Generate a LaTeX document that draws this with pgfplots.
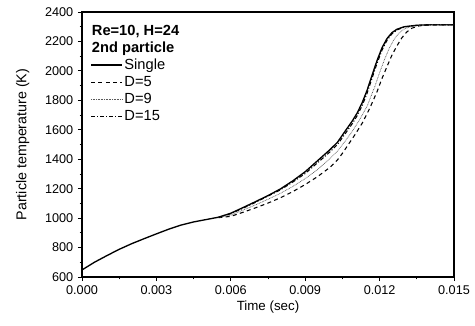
\documentclass[border=0pt]{standalone}
\usepackage{fontspec}
\setmainfont{Liberation Sans}
\usepackage{pgfplots}
\pgfplotsset{compat=1.18}

\pgfplotstableread{
t T
0 648
0.0005 700
0.001 745
0.0015 788
0.002 826
0.0025 860
0.003 893
0.0035 925
0.004 953
0.0045 974
0.005 990
0.0055 1006
0.006 1033
0.0065 1072
0.007 1112
0.0075 1153
0.008 1198
0.0085 1253
0.009 1315
0.0095 1390
0.0100 1465
0.0103 1515
0.0106 1588
0.0109 1660
0.0111 1715
0.0113 1785
0.0115 1870
0.0117 1972
0.0119 2072
0.0121 2158
0.0123 2220
0.0125 2260
0.0127 2283
0.0130 2300
0.0135 2310
0.0140 2313
0.0150 2313
}\single

\pgfplotstableread{
t T
0.0055 1003
0.006 1012
0.0065 1040
0.007 1070
0.0075 1102
0.008 1138
0.0085 1180
0.009 1228
0.0095 1282
0.0100 1345
0.0103 1395
0.0105 1440
0.0107 1490
0.0110 1565
0.0113 1645
0.0116 1745
0.0119 1860
0.0121 1950
0.0123 2030
0.0125 2108
0.0127 2170
0.0129 2225
0.0131 2265
0.0133 2290
0.0136 2306
0.0140 2312
0.0150 2313
}\dfive

\pgfplotstableread{
t T
0.0055 1004
0.006 1020
0.0065 1055
0.007 1090
0.0075 1128
0.008 1168
0.0085 1215
0.009 1268
0.0095 1330
0.0100 1405
0.0103 1455
0.0106 1520
0.0109 1590
0.0112 1670
0.0115 1762
0.0118 1890
0.0120 1988
0.0122 2078
0.0124 2158
0.0126 2218
0.0128 2260
0.0130 2285
0.0133 2302
0.0137 2310
0.0140 2313
0.0150 2313
}\dnine

\pgfplotstableread{
t T
0.0055 1005
0.006 1030
0.0065 1068
0.007 1107
0.0075 1150
0.008 1192
0.0085 1245
0.009 1303
0.0095 1376
0.0100 1450
0.0103 1500
0.0106 1570
0.0109 1642
0.0111 1697
0.0113 1765
0.0115 1850
0.0117 1952
0.0119 2052
0.0121 2142
0.0123 2208
0.0125 2252
0.0127 2278
0.0130 2298
0.0135 2309
0.0140 2313
0.0150 2313
}\dfifteen

\begin{document}
\begin{tikzpicture}
\begin{axis}[
  scale only axis,
  width=279pt, height=198.75pt,
  xmin=0, xmax=0.015, ymin=600, ymax=2400,
  xtick={0,0.003,0.006,0.009,0.012,0.015},
  ytick={600,800,...,2400},
  minor x tick num=1, minor y tick num=1,
  scaled x ticks=false,
  xticklabel style={/pgf/number format/.cd, fixed, fixed zerofill, precision=3},
  yticklabel style={/pgf/number format/.cd, 1000 sep={}},
  /pgf/number format/assume math mode=true,
  tick pos=left, tick align=outside,
  major tick length=3pt, minor tick length=1.8pt,
  tick style={black, line width=0.6pt},
  axis line style={line width=0.9pt},
  ticklabel style={font=\fontsize{9.5}{11}\selectfont},
  xlabel={Time (sec)},
  ylabel={Particle temperature (K)},
  xlabel style={font=\fontsize{10}{12}\selectfont, yshift=2pt},
  ylabel style={font=\fontsize{10.7}{12}\selectfont, yshift=5pt},
  legend style={at={(rel axis cs:0.022,0.832)}, anchor=north west, draw=none, fill=none,
    font=\fontsize{11}{13}\selectfont, row sep=0.6pt, inner sep=0pt,
    nodes={inner sep=1.5pt}},
  legend cell align=left,
  legend image code/.code={\draw[#1] (0pt,0pt) -- (23pt,0pt);},
]
\addplot[black, line width=1pt] table[x=t,y=T] {\single};
\addlegendentry{Single}
\addplot[black, line width=0.8pt, dash pattern=on 3pt off 2.5pt] table[x=t,y=T] {\dfive};
\addlegendentry{D=5}
\addplot[black!65, line width=0.5pt, dash pattern=on 0.6pt off 0.6pt] table[x=t,y=T] {\dnine};
\addlegendentry{D=9}
\addplot[black, line width=0.8pt, dash pattern=on 3pt off 1.5pt on 0.8pt off 1.5pt] table[x=t,y=T] {\dfifteen};
\addlegendentry{D=15}
\node[anchor=base west, font=\bfseries\fontsize{11}{13}\selectfont, inner sep=0pt] at (rel axis cs:0.026,0.912) {Re=10, H=24};
\node[anchor=base west, font=\bfseries\fontsize{11}{13}\selectfont, inner sep=0pt] at (rel axis cs:0.026,0.849) {2nd particle};
\end{axis}
\pgfresetboundingbox
\path[use as bounding box] ([shift={(-61.5pt,-36pt)}]current axis.south west) rectangle ([shift={(15.75pt,9pt)}]current axis.north east);
\end{tikzpicture}
\end{document}
